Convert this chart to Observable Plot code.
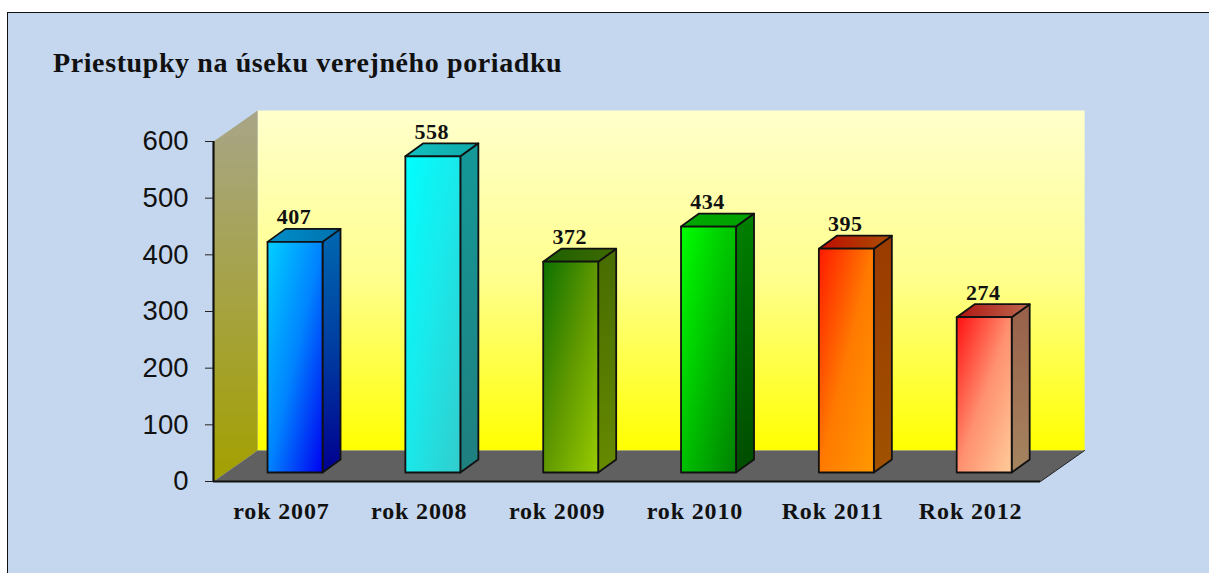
<!DOCTYPE html>
<html lang="sk">
<head>
<meta charset="utf-8">
<script src="https://cdn.jsdelivr.net/npm/d3@7"></script>
<script src="https://cdn.jsdelivr.net/npm/@observablehq/plot@0.6"></script>
<style>
  html, body { margin: 0; padding: 0; background: #fff; overflow: hidden; width: 1209px; height: 573px; }
  #frame { position: absolute; left: 7px; top: 12px; width: 1210px; height: 570px; background: #c5d7ef;
           border-left: 1.5px solid #111; border-top: 1.5px solid #111; box-sizing: border-box; }
  #title { position: absolute; left: 53px; top: 47px; margin: 0; font: bold 28px "Liberation Serif", serif;
           letter-spacing: 0.6px; color: #111; white-space: nowrap; line-height: 32px; }
  #chart { position: absolute; left: 0; top: 100px; }
  .catlabel text { letter-spacing: 0.85px; }
  .vallabel text { letter-spacing: 0.5px; }
</style>
</head>
<body>
<div id="frame"></div>
<h1 id="title">Priestupky na úseku verejného poriadku</h1>
<div id="chart"></div>
<script>
const categories = ["rok 2007", "rok 2008", "rok 2009", "rok 2010", "Rok 2011", "Rok 2012"];
const values = [407, 558, 372, 434, 395, 274];
const yTicks = [0, 100, 200, 300, 400, 500, 600];

// face colours per bar: [start, middle, end]
const frontColors = [["#00d0ff","#0084ff","#0000f0"],["#00ffff","#1ae8ea","#33cccc"],["#0c7000","#5f9800","#99cc00"],["#00ff00","#00c000","#008000"],["#ff1a00","#ff7a00","#ff9900"],["#ff1010","#ff9070","#ffcc99"]];
const sideColors  = [["#0068b0","#003ca0","#000090"],["#149898","#1a8c8c","#1f7f7f"],["#476c00","#567a00","#668a00"],["#008000","#006600","#004c00"],["#9a3a00","#9d4600","#a05200"],["#98604a","#9f7355","#a58560"]];
const topColors   = [["#0090c8","#0080bc","#0070b0"],["#12c0c0","#11b4b4","#10a8a8"],["#1c6000","#2e6500","#3f6a00"],["#00a800","#00a400","#00a000"],["#c00c00","#b42e00","#a85000"],["#b01510","#b63f30","#bc6850"]];
const wallColors = ["#ffffcc", "#ffff8c", "#ffff00"];
const leftWallColors = ["#a8a588", "#a3a000"];

// depth of the room and of each bar, in data units of the two scales
const roomX = 0.32, roomDy = 31 / 0.5667;
const barDx = 18 / 137.83, barDy = 13 / 0.5667;
const barInsetX = 0.392, barWidth = 0.399, barBase = 15.9;

const stops = (id, c, x2, y2) => `<linearGradient id="${id}" x1="0" y1="0" x2="${x2}" y2="${y2}">` +
  c.map((s, k) => `<stop offset="${k / (c.length - 1)}" stop-color="${s}"/>`).join("") + `</linearGradient>`;

const defsMark = () => {
  const defs = document.createElementNS("http://www.w3.org/2000/svg", "defs");
  let html = stops("gWall", wallColors, 0, 1) + stops("gLeft", leftWallColors, 0, 1);
  categories.forEach((_, i) => {
    html += stops(`gF${i}`, frontColors[i], 1, 1) + stops(`gS${i}`, sideColors[i], 0, 1) + stops(`gT${i}`, topColors[i], 1, 0);
  });
  defs.innerHTML = html;
  return defs;
};

const poly = (pts, fill, stroke, strokeWidth = 1.8) =>
  Plot.line([...pts, pts[0]].map(([x, y]) => ({x, y})), {x: "x", y: "y", fill, stroke, strokeWidth, strokeLinejoin: "round", curve: "linear"});

const barMarks = values.flatMap((v, i) => {
  const x0 = i + barInsetX, x1 = x0 + barWidth, y0 = barBase, y1 = barBase + v;
  const col = "#111";
  return [
    poly([[x1, y0], [x1 + barDx, y0 + barDy], [x1 + barDx, y1 + barDy], [x1, y1]], `url(#gS${i})`, col),
    poly([[x0, y1], [x1, y1], [x1 + barDx, y1 + barDy], [x0 + barDx, y1 + barDy]], `url(#gT${i})`, col),
    poly([[x0, y0], [x1, y0], [x1, y1], [x0, y1]], `url(#gF${i})`, col)
  ];
});

const n = categories.length;
const chart = Plot.plot({
  width: 1209,
  height: 473,
  marginLeft: 213,
  marginRight: 169,
  marginTop: 41,
  marginBottom: 92,
  style: {background: "transparent", overflow: "visible"},
  x: {type: "linear", domain: [0, n], axis: null},
  y: {type: "linear", domain: [0, 600], axis: null},
  marks: [
    defsMark,
    poly([[roomX, roomDy], [n + roomX, roomDy], [n + roomX, 600 + roomDy], [roomX, 600 + roomDy]], "url(#gWall)", "none"),
    poly([[0, 0], [roomX, roomDy], [roomX, 600 + roomDy], [0, 600]], "url(#gLeft)", "none"),
    poly([[0, 0], [n, 0], [n + roomX, roomDy], [roomX, roomDy]], "#606060", "none"),
    Plot.line([[n, 0], [n + roomX, roomDy]], {x: "0", y: "1", stroke: "#222", strokeWidth: 1}),
    ...barMarks,
    Plot.ruleX([0], {y1: 0, y2: 600, stroke: "#111", strokeWidth: 2.2}),
    Plot.ruleY([0], {x1: 0, x2: n, stroke: "#111", strokeWidth: 2.2}),
    Plot.axisY({ticks: yTicks, tickSize: 8, tickPadding: 17, fontSize: 27.5, fontFamily: "Liberation Sans", fill: "#111", stroke: "#222", label: null, tickFormat: d => String(d)}),
    Plot.text(categories, {x: (_, i) => i + 0.5, y: () => 0, text: d => d, dx: -1, dy: 30, fontSize: 24, fontWeight: "bold", fontFamily: "Liberation Serif", fill: "#111", textAnchor: "middle", className: "catlabel"}),
    Plot.text(values, {x: (_, i) => i + barInsetX + barWidth / 2, y: v => barBase + v, text: d => String(d), dy: -24.5, dx: -1, fontSize: 22, fontWeight: "bold", fontFamily: "Liberation Serif", fill: "#111", textAnchor: "middle", className: "vallabel"})
  ]
});
document.getElementById("chart").append(chart);
</script>
</body>
</html>
